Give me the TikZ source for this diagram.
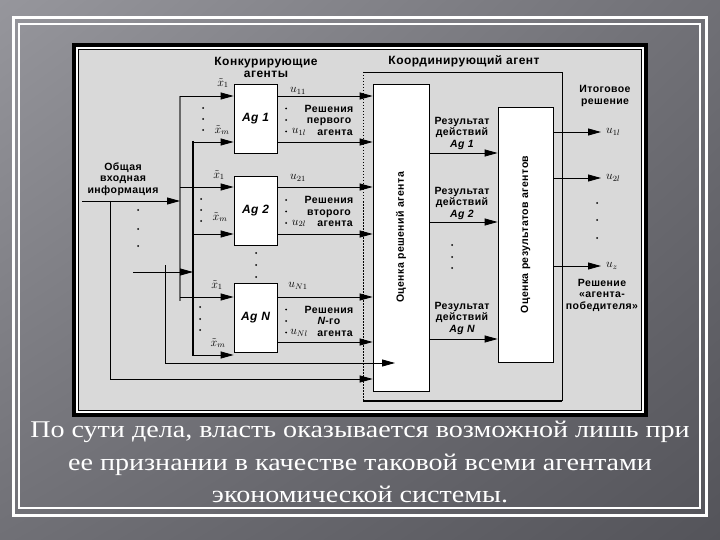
\documentclass[tikz,border=0pt]{standalone}
\usepackage{fontspec}
\setmainfont{Liberation Serif}
\setsansfont{Liberation Sans}
\newfontfamily\diafont[LetterSpace=4]{Liberation Sans}
\newfontfamily\capfont[FakeStretch=1.17]{Liberation Serif}
\usetikzlibrary{arrows.meta,shadings}
\definecolor{bgl}{RGB}{150,150,156}
\definecolor{bgm}{RGB}{112,112,118}
\definecolor{bgd}{RGB}{84,84,90}
\definecolor{panel}{RGB}{217,217,217}
\definecolor{busgray}{RGB}{105,105,105}
\begin{document}
\begin{tikzpicture}[x=1pt,y=-1pt,
  txt/.style={font=\diafont\bfseries\fontsize{10.5}{11.5}\selectfont,align=center,inner sep=0pt},
  head/.style={font=\diafont\bfseries\fontsize{12}{12}\selectfont,align=center,inner sep=0pt},
  sym/.style={font=\fontsize{12}{12}\selectfont,inner sep=0pt},
  agbox/.style={draw,fill=white,line width=0.8pt,minimum width=43pt,minimum height=69pt,inner sep=0pt,font=\diafont\bfseries\itshape\fontsize{12}{12}\selectfont},
  evalbox/.style={draw,fill=white,line width=0.8pt,inner sep=0pt},
  arr/.style={line width=0.8pt,-{Triangle[length=13pt,width=7pt]}}]
\useasboundingbox (0,0) rectangle (720,540);
\shade[upper left=bgl,upper right=bgm,lower left=bgm,lower right=bgd] (0,0) rectangle (720,540);
\draw[white,line width=3pt] (13,18) rectangle (706,515);
\draw[white,line width=1.2pt] (19,24) rectangle (700,508);
\draw[line width=4pt,fill=white] (74,45) rectangle (646,415);
\draw[line width=0.8pt,fill=panel] (78.5,49.5) rectangle (641.5,410.5);
\draw[line width=0.8pt] (363,72) -- (562,72) -- (562,401);
\draw[line width=2pt] (562,401) -- (363,401);
\draw[line width=0.8pt,dash pattern=on 1.5pt off 1.5pt] (363,72) -- (363,401);
\node[head] (hcomp) at (266,67) {Конкурирующие\\агенты};
\node[head] (hcoord) at (464,61) {Координирующий агент};
\node[evalbox,minimum width=56pt,minimum height=307pt] (ev1) at (401,237.5) {};
\node[txt,rotate=90] at (ev1) {Оценка решений агента};
\node[evalbox,minimum width=55pt,minimum height=255pt] (ev2) at (525.5,234.5) {};
\node[txt,rotate=90] at (ev2) {Оценка результатов агентов};
\node[agbox] (ag1) at (255.5,118.5) {Ag 1};
\node[agbox] (ag2) at (255.5,210.5) {Ag 2};
\node[agbox] (agN) at (255.5,317.5) {Ag N};
\draw[busgray,line width=2pt] (180,96) -- (180,301);
\draw[line width=2pt] (193,141) -- (193,356);
\foreach \n/\ya/\yb/\oa/\ob in {ag1/96/142/96/142,ag2/187/234/187/234,agN/297/355/297/342}
{
\draw[arr] (180,\ya) -- (\n.west |- 0,\ya);
\draw[arr] (193,\yb) -- (\n.west |- 0,\yb);
\draw[arr] (\n.east |- 0,\oa) -- (ev1.west |- 0,\oa);
\draw[arr] (\n.east |- 0,\ob) -- (ev1.west |- 0,\ob);
}
\foreach \xa/\ya/\xb/\yb/\xd/\da/\db/\dc in {223/83/222/130/203/108/119/130,219/175/220/217/201/199/210/221,217/285/218/343/200/307/319/330}
{
\node[sym] at (\xa,\ya) {$\tilde{x}_1$};
\node[sym] at (\xb,\yb) {$\tilde{x}_m$};
\foreach \y in {\da,\db,\dc}
{
\fill (\xd,\y) circle (1);
}
}
\foreach \k/\ya/\yt/\sec in {1/91/120/первого,2/178/211.5/второго,N/286/321/{{\itshape N}-го}}
{
\node[sym] at (298,\ya) {$u_{\k 1}$};
\node[sym] at (299,\yt+12) {$u_{\k l}$};
\node[txt] at (329,\yt) {Решения\\\sec\\\hspace*{12pt}агента};
\foreach \d in {-11.5,0,11.5}
{
\fill (286,\yt+\d) circle (1);
}
}
\node[txt] (info) at (123,179) {Общая\\входная\\информация};
\coordinate (inL) at (82,201);
\coordinate (inJ) at (110,201);
\coordinate (inB) at (110,379);
\draw[arr] (inL) -- (180,201);
\draw[line width=0.8pt] (inJ) -- (inB);
\draw[arr] (inB) -- (ev1.west |- inB);
\foreach \y in {210,229,246}
{
\fill (138,\y) circle (1);
}
\coordinate (fdL) at (133,272);
\coordinate (fdT) at (165,265);
\coordinate (fdB) at (165,363);
\draw[arr] (fdL) -- (193,272);
\draw[line width=0.8pt] (fdT) -- (fdB);
\draw[arr] (fdB) -- (395,363);
\foreach \y in {253,265,277}
{
\fill (256,\y) circle (1);
}
\foreach \y/\lab/\ly in {153/Ag 1/133,222/Ag 2/203,339/Ag N/318}
{
\draw[arr] (ev1.east |- 0,\y) -- (ev2.west |- 0,\y);
\node[txt] at (462,\ly) {Результат\\действий\\{\itshape \lab}};
}
\foreach \y in {245,257,268}
{
\fill (452,\y) circle (1);
}
\node[sym,anchor=west] (r1) at (606,132) {$u_{1l}$};
\node[sym,anchor=west] (r2) at (606,178) {$u_{2l}$};
\node[sym,anchor=west] (rz) at (606,266) {$u_{z}$};
\foreach \r in {r1,r2,rz}
{
\draw[arr] (ev2.east |- \r.west) -- ([xshift=-5pt]\r.west);
}
\foreach \y in {203,220,238}
{
\fill (597,\y) circle (1);
}
\node[txt] at (605,96) {Итоговое\\решение};
\node[txt] at (602,295) {Решение\\«агента-\\победителя»};
\node[text=white,font=\capfont\fontsize{24}{32.5}\selectfont,align=center,inner sep=0pt] (cap) at (360,462) {По сути дела, власть оказывается возможной лишь при\\ее признании в качестве таковой всеми агентами\\экономической системы.};
\end{tikzpicture}
\end{document}
